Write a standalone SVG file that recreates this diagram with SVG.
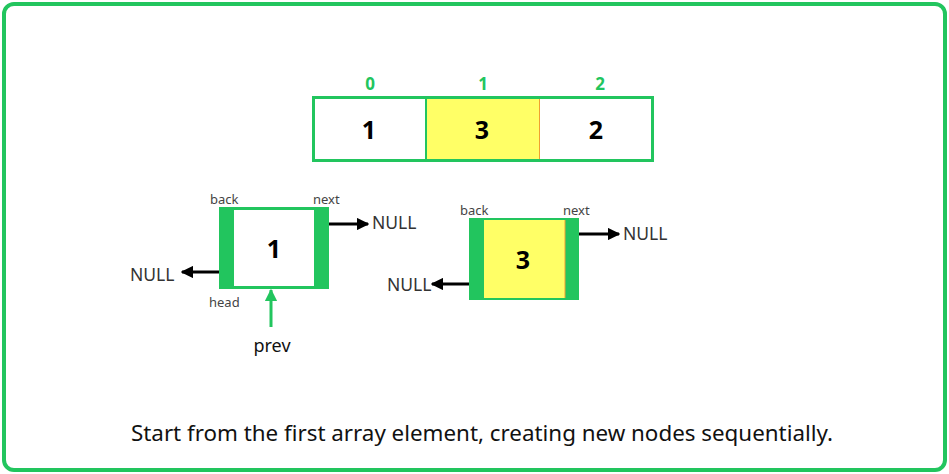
<svg xmlns="http://www.w3.org/2000/svg" width="949" height="474" viewBox="0 0 949 474">
<style>
.idx{font-family:"Noto Sans",sans-serif;font-weight:bold;font-size:17px;fill:#22c55e;text-anchor:middle}
.num{font-family:"Noto Sans",sans-serif;font-weight:bold;font-size:25px;fill:#000;text-anchor:middle}
.lbl{font-family:"Noto Sans",sans-serif;font-size:13px;fill:#444}
.null{font-family:"Noto Sans",sans-serif;font-size:17.5px;fill:#333}
.blk{stroke:#000;stroke-width:3;fill:none}
</style>
<defs>
<marker id="ah" viewBox="0 0 10 10" refX="9" refY="5" markerWidth="4.2" markerHeight="4.2" orient="auto"><path d="M0,0 L10,5 L0,10 Z" fill="#000"/></marker>
<marker id="ahg" viewBox="0 0 10 10" refX="9" refY="5" markerWidth="4.2" markerHeight="4.2" orient="auto"><path d="M0,0 L10,5 L0,10 Z" fill="#22c55e"/></marker>
</defs>
<rect x="0" y="0" width="949" height="474" fill="#fff"/>
<rect x="4" y="4" width="941" height="466" rx="10" fill="#fff" stroke="#22c55e" stroke-width="4"/>
<g id="array">
<rect x="426" y="96" width="114" height="66" fill="#ffff66"/>
<line x1="539.5" y1="97" x2="539.5" y2="161" stroke="#f0a030" stroke-width="1"/>
<rect x="313.5" y="97.5" width="339" height="63" fill="none" stroke="#22c55e" stroke-width="3"/>
<line x1="426" y1="97" x2="426" y2="161" stroke="#22c55e" stroke-width="2"/>
<text class="idx" x="370" y="90">0</text>
<text class="idx" x="483" y="90">1</text>
<text class="idx" x="600" y="90">2</text>
<text class="num" x="369" y="139">1</text>
<text class="num" x="482" y="139">3</text>
<text class="num" x="596" y="139">2</text>
</g>
<g id="node1">
<rect x="219" y="207" width="110" height="82" fill="#22c55e"/>
<rect x="234" y="210" width="80" height="76" fill="#fff"/>
<text class="num" x="274" y="258">1</text>
<text class="lbl" x="210" y="204">back</text>
<text class="lbl" x="313" y="204">next</text>
<text class="lbl" x="209" y="307">head</text>
</g>
<g id="node3">
<rect x="469" y="218" width="110" height="82" fill="#22c55e"/>
<rect x="484" y="220" width="81" height="78" fill="#ffff66"/>
<line x1="565" y1="220" x2="565" y2="298" stroke="#f0a030" stroke-width="1"/>
<text class="num" x="523" y="269">3</text>
<text class="lbl" x="460" y="215">back</text>
<text class="lbl" x="563" y="215">next</text>
</g>
<g id="nulls">
<text class="null" x="372" y="229">NULL</text>
<text class="null" x="130" y="281">NULL</text>
<text class="null" x="623" y="240">NULL</text>
<text class="null" x="387" y="291">NULL</text>
</g>
<g id="prev">
<text x="272" y="352" font-family="Noto Sans, sans-serif" font-size="18" fill="#111" text-anchor="middle">prev</text>
</g>
<g id="connectors">
<line class="blk" x1="329" y1="224" x2="368" y2="224" marker-end="url(#ah)"/>
<line class="blk" x1="219" y1="272" x2="182" y2="272" marker-end="url(#ah)"/>
<line class="blk" x1="579" y1="234" x2="619" y2="234" marker-end="url(#ah)"/>
<line class="blk" x1="469" y1="284" x2="432" y2="284" marker-end="url(#ah)"/>
<line x1="271" y1="327" x2="271" y2="290" stroke="#22c55e" stroke-width="3" marker-end="url(#ahg)"/>
</g>
<text x="131" y="441" font-family="Noto Sans, sans-serif" font-size="22" fill="#111" textLength="702" lengthAdjust="spacingAndGlyphs">Start from the first array element, creating new nodes sequentially.</text>
</svg>
